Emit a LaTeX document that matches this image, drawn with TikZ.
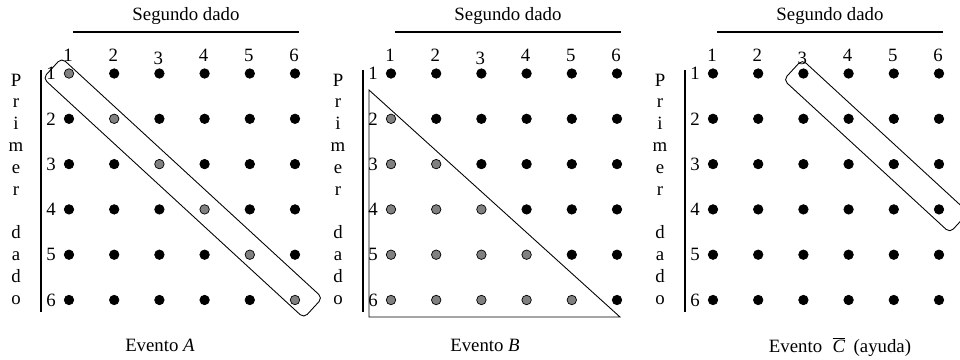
\documentclass[tikz,border=0pt]{standalone}
\usepackage{fontspec}
\setmainfont{Liberation Serif}

\begin{document}
\begin{tikzpicture}[
        x=0.02cm, y=-0.02cm,
        font=\fontsize{10.7}{12}\selectfont,
        dot/.style={circle, draw=black, line width=0.4pt, inner sep=0pt, minimum size=0.19cm},
        band/.style={draw, rounded corners=0.1cm, line width=0.5pt, minimum height=0.55cm, inner sep=0pt},
        rule/.style={line width=0.6pt},
    ]
    \useasboundingbox (0,0) rectangle (960,359);

    % ====== Three panels (kind: 1 = diagonal, 2 = below diagonal, 0 = none) ======
    \foreach \ev/\dx/\kind in {A/0/1, B/322/2, C/644/0} {
        \begin{scope}[shift={(\dx,0)}]
            \node (\ev-top) at (186,16) {Segundo dado};
            \draw[rule] (73,32) -- (299,32);
            \draw[rule] (41,70) -- (41,312);

            \foreach \l/\k in {P/0, r/1, i/2, m/3, e/4, r/5, d/7, a/8, d/9, o/10}
                \node[anchor=base, inner sep=0pt] (\ev-side-\k) at (16,86+21.8*\k) {\l};

            \foreach \c in {1,...,6} {
                \pgfmathsetmacro\cy{\c==3 ? 58 : 55}
                \node (\ev-col-\c) at (68+45.2*\c-45.2,\cy) {\c};
            }

            \foreach \r in {1,...,6} {
                \node (\ev-row-\r) at (51,73.5+45.3*\r-45.3) {\r};
                \foreach \c in {1,...,6} {
                    \pgfmathtruncatemacro\g{(\kind==1 && \r==\c) || (\kind==2 && \c<\r)}
                    \ifnum\g=1 \def\dotcol{gray}\else\def\dotcol{black}\fi
                    \node[dot, fill=\dotcol] (\ev-\r-\c) at (69+45.2*\c-45.2,73.5+45.3*\r-45.3) {};
                }
            }
        \end{scope}
    }

    % ====== Events ======
    \node[band, rotate=-42.6, minimum width=7.09cm] (bandA) at (182.75,188) {};
    \draw[line width=0.5pt] (369,90) -- (369,317) -- (620,317) -- cycle;
    \node[band, rotate=-42.6, minimum width=4.52cm] (bandC) at (876,146.2) {};

    % ====== Captions ======
    \node (labA) at (160,345) {Evento \textit{A}};
    \node (labB) at (485,345) {Evento \textit{B}};
    \node (labC) at (840,347) {Evento\hspace{0.55em}$\overline{\mbox{\textit{C}}}$\hspace{0.45em}(ayuda)};
\end{tikzpicture}
\end{document}
